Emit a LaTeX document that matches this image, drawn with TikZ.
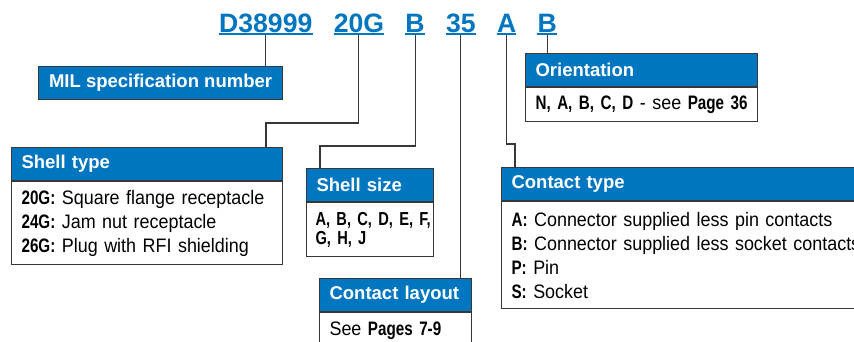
\documentclass[tikz,border=0pt]{standalone}
\usepackage{fontspec}
\setmainfont{Liberation Sans}
\newfontfamily\bodyrm{Liberation Sans}[FakeStretch=0.92, BoldFont={Liberation Sans Bold}, BoldFeatures={FakeStretch=0.78}]
\usetikzlibrary{positioning}
\definecolor{mblue}{RGB}{0,118,192}
\definecolor{edgegray}{RGB}{55,55,55}

\begin{document}
\begin{tikzpicture}[
        x=1pt, y=-1pt,
        node distance=21pt,
        code/.style={inner xsep=0pt, inner ysep=2.5pt, text=mblue, font=\fontsize{26.6}{30}\selectfont\bfseries},
        uline/.style={draw=mblue, line width=1.6pt},
        header/.style={rectangle, draw=edgegray, fill=mblue, line width=1.1pt, minimum height=33pt, inner xsep=10pt, inner ysep=0pt, text=white, align=left, font=\fontsize{18.5}{22}\selectfont\bfseries, anchor=north west},
        body/.style={rectangle, draw=edgegray, fill=white, line width=1.1pt, inner xsep=10pt, inner ysep=0pt, align=left, font=\bodyrm\fontsize{19.5}{24}\selectfont, anchor=north west},
        leader/.style={draw=edgegray, line width=1.1pt}
    ]
%
    \path[use as bounding box, fill=white] (0,0) rectangle (854,341);
%
    % Part number
    \node[code, anchor=base west] (milno) at (219,32) {D38999};
    \node[code, base right=of milno] (shellno) {20G};
    \node[code, base right=of shellno] (sizeno) {B};
    \node[code, base right=of sizeno] (layoutno) {35};
    \node[code, base right=of layoutno] (contactno) {A};
    \node[code, base right=of contactno] (orientno) {B};
    \foreach \n in {milno, shellno, sizeno, layoutno, contactno, orientno}
        \draw[uline] ([yshift=-2pt]\n.base west) -- ([yshift=-2pt]\n.base east);
%
    % Boxes
    \node[header, minimum width=244pt, align=center] (mil) at (38,66) {MIL specification number};
    \node[header, text width=251pt] (shtype) at (11,147) {Shell type};
    \node[body, text width=251pt, minimum height=83pt] (shtypetxt) at (shtype.south west) {\textbf{20G:} Square flange receptacle\\ \textbf{24G:} Jam nut receptacle\\ \textbf{26G:} Plug with RFI shielding};
    \node[header, text width=107pt] (shsize) at (306,168) {Shell size};
    \node[body, text width=109pt, inner xsep=9pt, minimum height=54pt, font=\bodyrm\fontsize{18.8}{19}\selectfont\bfseries] (shsizetxt) at (shsize.south west) {\mbox{A, B, C, D, E, F,}\\ \mbox{G, H, J}};
    \node[header, text width=212pt] (orient) at (525,53) {Orientation};
    \node[body, text width=212pt, minimum height=34pt] (orienttxt) at (orient.south west) {\textbf{N, A, B, C, D} - see \textbf{Page 36}};
    \node[header, text width=360pt] (ctype) at (501,167) {Contact type};
    \node[body, text width=360pt, minimum height=107pt] (ctypetxt) at (ctype.south west) {\textbf{A:} Connector supplied less pin contacts\\ \textbf{B:} Connector supplied less socket contacts\\ \textbf{P:} Pin\\ \textbf{S:} Socket};
    \node[header, text width=132pt] (layout) at (319,278) {Contact layout};
    \node[body, text width=132pt, minimum height=36pt] (layouttxt) at (layout.south west) {See \textbf{Pages 7-9}};
%
    % Leaders
    \coordinate (bendshell) at (266,123);
    \coordinate (bendsize) at (320,146);
    \coordinate (bendcontact) at (515,144);
    \draw[leader] (milno.south) -- (milno.south |- mil.north);
    \draw[leader] (shellno.south) |- (bendshell) -- (bendshell |- shtype.north);
    \draw[leader] (sizeno.south) |- (bendsize) -- (bendsize |- shsize.north);
    \draw[leader] (layoutno.south) -- (layoutno.south |- layout.north);
    \draw[leader] (contactno.south) |- (bendcontact) -- (bendcontact |- ctype.north);
    \draw[leader] (orientno.south) -- (orientno.south |- orient.north);
%
\end{tikzpicture}
\end{document}
